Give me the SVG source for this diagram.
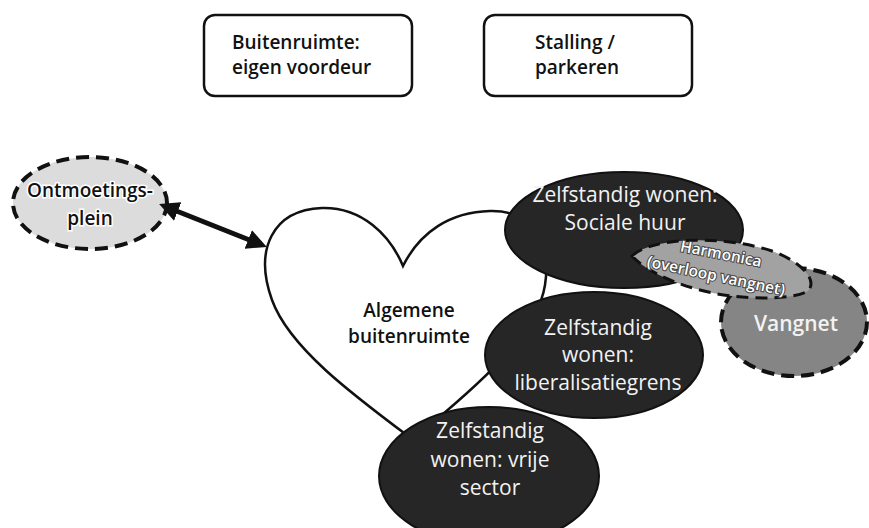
<svg xmlns="http://www.w3.org/2000/svg" width="869" height="528" viewBox="0 0 869 528">
<defs>
<style>
.box{fill:#fff;stroke:#111;stroke-width:2.5}
.lbl{font-family:"Open Sans","Liberation Sans",sans-serif;font-weight:600;font-size:19px;fill:#111}
.dark{fill:#262626;stroke:#111;stroke-width:2}
.wt{font-family:"Open Sans","Liberation Sans",sans-serif;font-size:21px;fill:#f2f2f2;text-anchor:middle}
.hm{font-family:"Open Sans","Liberation Sans",sans-serif;font-size:15.5px;font-weight:600;fill:#fff;text-anchor:middle;stroke:#444;stroke-width:2;paint-order:stroke}
.dash{stroke:#111;stroke-width:4;stroke-dasharray:13 7}
</style>
<marker id="ah" viewBox="0 0 10 10" refX="2" refY="5" markerWidth="4" markerHeight="4" orient="auto-start-reverse" markerUnits="strokeWidth">
<path d="M0,0 L10,5 L0,10 Z" fill="#111"/>
</marker>
</defs>
<rect width="869" height="528" fill="#fff"/>

<g id="buitenruimte-eigen">
<rect class="box" x="204" y="15" width="208" height="81" rx="11"/>
<text class="lbl" x="232" y="49">Buitenruimte:</text>
<text class="lbl" x="232" y="74">eigen voordeur</text>
</g>

<g id="stalling">
<rect class="box" x="484" y="15" width="208" height="81" rx="11"/>
<text class="lbl" x="535" y="49">Stalling /</text>
<text class="lbl" x="535" y="74">parkeren</text>
</g>

<g id="ontmoetingsplein">
<ellipse cx="90" cy="203" rx="77" ry="46" fill="#dcdcdc" class="dash"/>
<text class="lbl" x="90" y="197" text-anchor="middle" font-size="20" stroke="#fff" stroke-width="3" paint-order="stroke">Ontmoetings-</text>
<text class="lbl" x="90" y="225" text-anchor="middle" font-size="20" stroke="#fff" stroke-width="3" paint-order="stroke">plein</text>
</g>

<g id="connectors">
<line x1="174" y1="210" x2="252" y2="241" stroke="#111" stroke-width="5" marker-start="url(#ah)" marker-end="url(#ah)"/>
</g>

<g id="algemene-buitenruimte">
<path d="M403 266 C420 232 450 212 490 211 C530 210 552 240 545 285 C538 330 490 375 430 425 L420 445 C360 400 290 350 272 300 C254 250 272 210 322 208 C362 207 390 235 403 266 Z" fill="#fff" stroke="#111" stroke-width="2.5"/>
<text class="lbl" x="409" y="317" text-anchor="middle">Algemene</text>
<text class="lbl" x="409" y="343" text-anchor="middle">buitenruimte</text>
</g>

<g id="sociale-huur">
<ellipse class="dark" cx="624" cy="230" rx="119" ry="58"/>
<text class="wt" x="625" y="202">Zelfstandig wonen:</text>
<text class="wt" x="625" y="230">Sociale huur</text>
</g>

<g id="liberalisatiegrens">
<ellipse class="dark" cx="594" cy="355" rx="109" ry="63"/>
<text class="wt" x="598" y="335">Zelfstandig</text>
<text class="wt" x="598" y="362">wonen:</text>
<text class="wt" x="598" y="390">liberalisatiegrens</text>
</g>

<g id="vrije-sector">
<ellipse class="dark" cx="489" cy="476" rx="110" ry="69"/>
<text class="wt" x="490" y="438">Zelfstandig</text>
<text class="wt" x="490" y="467">wonen: vrije</text>
<text class="wt" x="490" y="495">sector</text>
</g>

<g id="vangnet">
<ellipse cx="794" cy="322" rx="73" ry="54" fill="#858585" class="dash" stroke-width="3.5"/>
<text class="wt" x="796" y="331" font-weight="600">Vangnet</text>
</g>

<g id="harmonica">
<path d="M632 256 C650 238 720 234 772 251 C802 262 818 280 808 291 C794 300 740 301 700 290 C670 282 645 270 632 256 Z" fill="#a2a2a2" stroke="#111" stroke-width="3" stroke-dasharray="12 7"/>
<text class="hm" transform="translate(720 259) rotate(11)">Harmonica</text>
<text class="hm" transform="translate(715 281) rotate(12)">(overloop vangnet)</text>
</g>
</svg>
